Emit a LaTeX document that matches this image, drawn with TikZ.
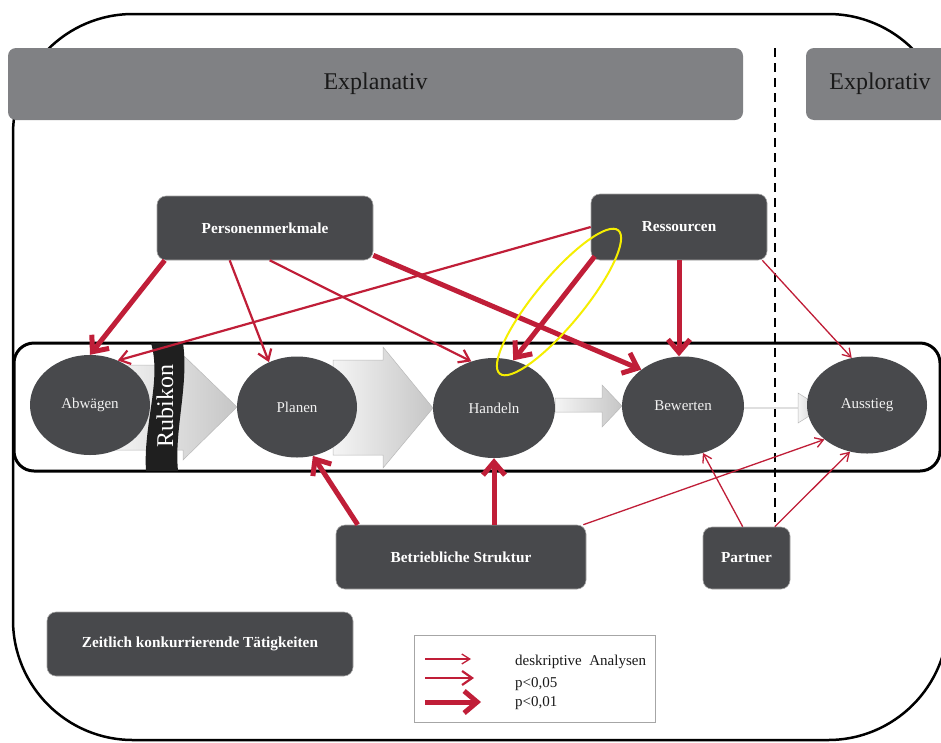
\documentclass[tikz,border=0pt]{standalone}
\usepackage{fontspec}
\setmainfont{Liberation Serif}
\usetikzlibrary{shapes.geometric,arrows.meta,calc}
\definecolor{redarr}{RGB}{192,30,56}
\definecolor{bargray}{RGB}{128,129,132}
\definecolor{boxgray}{RGB}{72,73,76}
\definecolor{hlyellow}{RGB}{245,238,0}
\begin{document}
\begin{tikzpicture}[x=1pt,y=-1pt,
  bar/.style={fill=bargray, rounded corners=8pt, inner sep=0pt, text=black!90, font=\fontsize{24}{28}\selectfont},
  box/.style={fill=boxgray, draw=gray!70, line width=0.6pt, rounded corners=9pt, text=white, font=\fontsize{15.3}{18}\selectfont\bfseries, inner sep=0pt},
  proc/.style={ellipse, fill=boxgray, inner sep=0pt, text=gray!10, font=\fontsize{15}{18}\selectfont},
  rthin/.style={draw=redarr, line width=1.3pt, -{Straight Barb[length=8pt,width=10pt]}},
  rmed/.style={draw=redarr, line width=2.2pt, -{Straight Barb[length=10pt,width=14pt]}},
  rthick/.style={draw=redarr, line width=5pt, -{Straight Barb[length=13pt,width=22pt]}},
  flow/.style={left color=gray!8, right color=gray!45, draw=gray!55, line width=0.5pt},
  legtext/.style={anchor=west, inner sep=0pt, text=black!90, font=\fontsize{15}{18}\selectfont}
]
\useasboundingbox (0,0) rectangle (941,742);
\fill[white] (0,0) rectangle (941,742);
% outer frame
\draw[line width=2.5pt, rounded corners=120pt] (13,14) rectangle (948,740);
% header bars
\node[bar, minimum width=735pt, minimum height=72pt] (expl) at (375.5,84) {Explanativ};
\node[bar, minimum width=148pt, minimum height=72pt] (explor) at (880,84) {Explorativ};
% dashed separator
\draw[line width=2.5pt, dash pattern=on 9pt off 6pt] (775,48) -- (775,556);
% process band
\draw[line width=3pt, rounded corners=20pt] (14,343) rectangle (940,471);
% flow arrows
\shadedraw[flow] (110,365) -- (183,365) -- (183,355) -- (237,407) -- (183,460) -- (183,450) -- (110,450) -- cycle;
\shadedraw[flow] (333,360) -- (383,360) -- (383,347) -- (433,408) -- (383,468) -- (383,455) -- (333,455) -- cycle;
\shadedraw[flow] (555,398) -- (602,398) -- (602,385) -- (622,406) -- (602,427) -- (602,412) -- (555,412) -- cycle;
\draw[gray!25, line width=2pt] (743,408) -- (800,408);
\shadedraw[flow] (798,393) -- (822,408) -- (798,423) -- cycle;
% process ellipses
\node[proc, minimum width=120pt, minimum height=100pt] (abw) at (90,405) {Abwägen};
\node[proc, minimum width=120pt, minimum height=101pt] (plan) at (297,407) {Planen};
\node[proc, minimum width=122pt, minimum height=100pt] (hand) at (494,408) {Handeln};
\node[proc, minimum width=122pt, minimum height=99pt] (bew) at (683,406) {Bewerten};
\node[proc, minimum width=120pt, minimum height=97pt] (aus) at (867,405) {Ausstieg};
% Rubikon
\fill[black!88] (151,343) .. controls (162,380) and (143,425) .. (146,471) -- (178,471) .. controls (174,430) and (189,385) .. (183,343) -- cycle;
\node[rotate=90, text=white, inner sep=0pt, font=\fontsize{24}{28}\selectfont] (rub) at (165,406) {Rubikon};
% boxes
\node[box, minimum width=216pt, minimum height=64pt] (pers) at (265,228) {Personenmerkmale};
\node[box, minimum width=176pt, minimum height=66pt] (res) at (679,227) {Ressourcen};
\node[box, minimum width=250pt, minimum height=64pt] (bs) at (461,557) {Betriebliche Struktur};
\node[box, minimum width=87pt, minimum height=62pt] (partner) at (746.5,558) {Partner};
\node[box, minimum width=306pt, minimum height=64pt] (zeit) at (200,644) {Zeitlich konkurrierende Tätigkeiten};
% red connectors
\draw[rthick] ([xshift=8pt]pers.south west) -- (abw.north);
\draw[rmed] ([xshift=73pt]pers.south west) -- (plan.122);
\draw[rmed] ([xshift=113pt]pers.south west) -- (hand.116);
\draw[rthick] ([yshift=5pt]pers.south east) -- (bew.139);
\draw[rmed] (res.west) -- (abw.58);
\draw[rthick] ([xshift=4pt,yshift=4pt]res.south west) -- (hand.68);
\draw[rthick] (res.south) -- (res.south |- bew.north);
\draw[rthin] ([xshift=-5pt]res.south east) -- (aus.108);
\draw[rthick] ([xshift=22pt]bs.north west) -- (plan.288);
\draw[rthick] (hand.south |- bs.north) -- (hand.south);
\draw[rthin] ([xshift=-3pt]bs.north east) -- (aus.219);
\draw[rthin] ([xshift=40pt]partner.north west) -- (bew.293);
\draw[rthin] ([xshift=72pt]partner.north west) -- (aus.250);
% highlight
\node[ellipse, draw=hlyellow, line width=2pt, minimum width=186pt, minimum height=48pt, inner sep=0pt, rotate=50.4] (hl) at (559,302) {};
% legend
\node[draw=gray!70, line width=0.8pt, minimum width=241pt, minimum height=87pt, inner sep=0pt] (leg) at (534.5,678.5) {};
\coordinate (l1s) at (425,659); \coordinate (l1e) at (471,659);
\coordinate (l2s) at (425,678); \coordinate (l2e) at (474,678);
\coordinate (l3s) at (425,702); \coordinate (l3e) at (481,702);
\draw[rthin] (l1s) -- (l1e);
\draw[rmed] (l2s) -- (l2e);
\draw[rthick] (l3s) -- (l3e);
\node[legtext] (t1) at (515,662) {deskriptive\hspace{0.5em}Analysen};
\node[legtext] (t2) at (515,684) {p<0,05};
\node[legtext] (t3) at (515,703) {p<0,01};
\end{tikzpicture}
\end{document}
